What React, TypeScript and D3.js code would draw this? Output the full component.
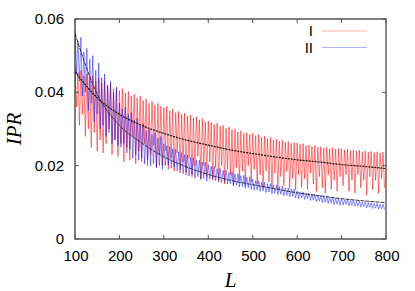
import React, { useRef, useEffect } from 'react';
import * as d3 from 'd3';

// oscillation grid: 105 periods between L=100 and L=800
const L_START = 100;
const L_STEP = 700 / 105;

// series I (red): peak and dip of each period
const redHigh = [
  0.047, 0.0455, 0.046, 0.0445, 0.045, 0.044, 0.0445, 0.043, 0.0438, 0.0425, 0.043, 0.0418, 0.0422, 0.041, 0.0415,
  0.0405, 0.041, 0.0398, 0.0402, 0.039, 0.0395, 0.0385, 0.039, 0.0378, 0.0382, 0.037, 0.0375, 0.0365, 0.037, 0.0362,
  0.0358, 0.0362, 0.035, 0.0355, 0.0345, 0.0348, 0.034, 0.0343, 0.0335, 0.0338, 0.033, 0.0333, 0.0325, 0.0328, 0.032,
  0.0322, 0.0318, 0.0312, 0.0316, 0.0308, 0.031, 0.0302, 0.0305, 0.0298, 0.03, 0.0292, 0.0295, 0.0288, 0.029, 0.0285,
  0.0288, 0.0282, 0.0285, 0.0278, 0.028, 0.0274, 0.0277, 0.027, 0.0272, 0.0267, 0.0269, 0.0264, 0.0266, 0.0261, 0.0263,
  0.0262, 0.0258, 0.026, 0.0255, 0.0257, 0.0253, 0.0255, 0.025, 0.0252, 0.0248, 0.025, 0.0246, 0.0249, 0.0245, 0.0247,
  0.0246, 0.0243, 0.0245, 0.0241, 0.0243, 0.024, 0.0242, 0.0238, 0.024, 0.0237, 0.0239, 0.0236, 0.0238, 0.0235, 0.0237
];
const redLow = [
  0.036, 0.031, 0.034, 0.028, 0.03, 0.025, 0.029, 0.024, 0.027, 0.0235, 0.026, 0.03, 0.023, 0.027, 0.0225,
  0.026, 0.021, 0.025, 0.0215, 0.028, 0.0205, 0.024, 0.021, 0.026, 0.02, 0.023, 0.0255, 0.0195, 0.023, 0.02,
  0.024, 0.019, 0.022, 0.0185, 0.0235, 0.018, 0.021, 0.0175, 0.022, 0.017, 0.02, 0.0225, 0.0165, 0.02, 0.017,
  0.021, 0.016, 0.0195, 0.0155, 0.02, 0.015, 0.019, 0.0175, 0.0145, 0.0195, 0.016, 0.0185, 0.0145, 0.02, 0.0155,
  0.019, 0.015, 0.0175, 0.014, 0.0185, 0.0155, 0.014, 0.018, 0.0135, 0.017, 0.0145, 0.0185, 0.014, 0.0165, 0.0135,
  0.0175, 0.014, 0.0165, 0.0135, 0.018, 0.015, 0.013, 0.017, 0.014, 0.0125, 0.0175, 0.0135, 0.016, 0.013, 0.017,
  0.0145, 0.0175, 0.013, 0.016, 0.0125, 0.0175, 0.014, 0.016, 0.012, 0.017, 0.0135, 0.016, 0.0125, 0.0165, 0.014
];

// series II (blue)
const blueHigh = [
  0.057, 0.054, 0.055, 0.051, 0.052, 0.049, 0.05, 0.046, 0.048, 0.044, 0.045, 0.042, 0.043, 0.04, 0.041,
  0.037, 0.0355, 0.036, 0.034, 0.0345, 0.0325, 0.033, 0.031, 0.0315, 0.0295, 0.03, 0.0285, 0.029, 0.0275, 0.028,
  0.026, 0.0255, 0.0252, 0.0246, 0.0245, 0.0238, 0.0236, 0.023, 0.0229, 0.0223, 0.0222, 0.0216, 0.0215, 0.021, 0.0209,
  0.0203, 0.0198, 0.0198, 0.0192, 0.0193, 0.0187, 0.0188, 0.0182, 0.0183, 0.0177, 0.0178, 0.0173, 0.0174, 0.0169, 0.017,
  0.0163, 0.0159, 0.0159, 0.0155, 0.0155, 0.0151, 0.0151, 0.0147, 0.0147, 0.0143, 0.0144, 0.014, 0.014, 0.0137, 0.0137,
  0.0131, 0.0128, 0.0128, 0.0125, 0.0125, 0.0122, 0.0122, 0.0119, 0.0119, 0.0116, 0.0116, 0.0114, 0.0114, 0.0111, 0.0111,
  0.011, 0.0107, 0.0108, 0.0105, 0.0106, 0.0103, 0.0104, 0.0101, 0.0101, 0.0099, 0.0099, 0.0097, 0.0097, 0.0095, 0.0095
];
const blueLow = [
  0.045, 0.043, 0.039, 0.04, 0.035, 0.037, 0.032, 0.034, 0.03, 0.031, 0.028, 0.029, 0.026, 0.027, 0.0255,
  0.025, 0.026, 0.0235, 0.0245, 0.022, 0.023, 0.0215, 0.022, 0.0205, 0.0215, 0.02, 0.0205, 0.0195, 0.02, 0.019,
  0.02, 0.0202, 0.0193, 0.0196, 0.0186, 0.0189, 0.0178, 0.0182, 0.0172, 0.0176, 0.0166, 0.017, 0.0162, 0.0165, 0.0158,
  0.0163, 0.0165, 0.0159, 0.016, 0.0154, 0.0156, 0.015, 0.0151, 0.0146, 0.0147, 0.0142, 0.0143, 0.0138, 0.014, 0.0135,
  0.0133, 0.0134, 0.013, 0.0131, 0.0127, 0.0128, 0.0124, 0.0125, 0.0121, 0.0122, 0.0118, 0.0119, 0.0115, 0.0116, 0.0112,
  0.011, 0.0112, 0.0108, 0.0109, 0.0105, 0.0106, 0.0102, 0.0103, 0.0099, 0.01, 0.0097, 0.0098, 0.0094, 0.0095, 0.0092,
  0.0093, 0.0094, 0.0091, 0.0092, 0.0089, 0.009, 0.0087, 0.0088, 0.0085, 0.0086, 0.0083, 0.0084, 0.0081, 0.0082, 0.008
];

// fitted curves, read every 50 in L
const fitL = [100, 150, 200, 250, 300, 350, 400, 450, 500, 550, 600, 650, 700, 750, 800];
const fitRed = [0.0456, 0.0385, 0.034, 0.031, 0.0288, 0.027, 0.0256, 0.0243, 0.0233, 0.0224, 0.0216, 0.021, 0.0203, 0.0198, 0.0192];
const fitBlue = [0.056, 0.0395, 0.031, 0.0262, 0.0224, 0.0197, 0.0176, 0.016, 0.0148, 0.0137, 0.0126, 0.0118, 0.011, 0.0104, 0.0099];

const xTicks = [100, 200, 300, 400, 500, 600, 700, 800];
const yTicks = [0, 0.02, 0.04, 0.06];
const legendItems = [
  { label: 'I', color: '#ff0000' },
  { label: 'II', color: '#0000ff' }
];

const W = 415;
const H = 291;

const zigzag = (hi: number[], lo: number[]): [number, number][] => {
  const pts: [number, number][] = [];
  hi.forEach((h, i) => {
    pts.push([L_START + i * L_STEP, h]);
    pts.push([L_START + (i + 0.5) * L_STEP, lo[i]]);
  });
  return pts;
};

const App: React.FC = () => {
  const svgRef = useRef<SVGSVGElement>(null);

  useEffect(() => {
    if (!svgRef.current) return;
    const svg = d3.select(svgRef.current);
    svg.selectAll('*').remove();

    const margin = { top: 19, right: 29, bottom: 52, left: 75 };
    const x = d3.scaleLinear().domain([100, 800]).range([margin.left, W - margin.right]);
    const y = d3.scaleLinear().domain([0, 0.06]).range([H - margin.bottom, margin.top]);

    const line = d3.line<[number, number]>()
      .x(d => x(d[0]))
      .y(d => y(d[1]));
    const smooth = d3.line<[number, number]>()
      .x(d => x(d[0]))
      .y(d => y(d[1]))
      .curve(d3.curveMonotoneX);

    svg.append('defs').append('clipPath').attr('id', 'plot-clip')
      .append('rect')
      .attr('x', x(100)).attr('y', y(0.06))
      .attr('width', x(800) - x(100)).attr('height', y(0) - y(0.06));

    const plot = svg.append('g').attr('clip-path', 'url(#plot-clip)');

    // data
    plot.append('path')
      .attr('d', line(zigzag(redHigh, redLow)))
      .attr('fill', 'none')
      .attr('stroke', '#ff0000')
      .attr('stroke-width', 0.6)
      .attr('stroke-opacity', 0.85);

    plot.append('path')
      .attr('d', line(zigzag(blueHigh, blueLow)))
      .attr('fill', 'none')
      .attr('stroke', '#0000ff')
      .attr('stroke-width', 0.6)
      .attr('stroke-opacity', 0.75);

    // fits
    plot.append('path')
      .attr('d', smooth(fitL.map((l, i) => [l, fitRed[i]] as [number, number])))
      .attr('fill', 'none')
      .attr('stroke', '#111')
      .attr('stroke-width', 1.2)
      .attr('stroke-dasharray', '2,1');

    plot.append('path')
      .attr('d', smooth(fitL.map((l, i) => [l, fitBlue[i]] as [number, number])))
      .attr('fill', 'none')
      .attr('stroke', '#333')
      .attr('stroke-width', 1)
      .attr('stroke-dasharray', '4,1');

    // frame
    const x0 = x(100), x1 = x(800), y0 = y(0), y1 = y(0.06);
    svg.append('rect')
      .attr('x', x0).attr('y', y1)
      .attr('width', x1 - x0).attr('height', y0 - y1)
      .attr('fill', 'none')
      .attr('stroke', '#000')
      .attr('stroke-width', 1);
    svg.append('line')
      .attr('x1', x1).attr('x2', x1).attr('y1', y1).attr('y2', y0)
      .attr('stroke', '#888').attr('stroke-width', 2);

    // ticks (inside, mirrored)
    const tick = 4;
    xTicks.forEach(t => {
      svg.append('line').attr('x1', x(t)).attr('x2', x(t)).attr('y1', y0).attr('y2', y0 - tick)
        .attr('stroke', '#555').attr('stroke-width', 1);
      svg.append('line').attr('x1', x(t)).attr('x2', x(t)).attr('y1', y1).attr('y2', y1 + tick)
        .attr('stroke', '#555').attr('stroke-width', 1);
    });
    yTicks.forEach(t => {
      svg.append('line').attr('x1', x0).attr('x2', x0 + tick).attr('y1', y(t)).attr('y2', y(t))
        .attr('stroke', '#555').attr('stroke-width', 1);
      svg.append('line').attr('x1', x1).attr('x2', x1 - tick).attr('y1', y(t)).attr('y2', y(t))
        .attr('stroke', '#555').attr('stroke-width', 1);
    });

    const font = '"Liberation Sans", Arial, sans-serif';

    svg.selectAll('.x-label')
      .data(xTicks)
      .enter()
      .append('text')
      .attr('class', 'x-label')
      .attr('x', d => x(d) + 1)
      .attr('y', y0 + 22)
      .attr('text-anchor', 'middle')
      .attr('font-family', font)
      .attr('font-size', '15px')
      .attr('fill', '#000')
      .text(d => String(d));

    svg.selectAll('.y-label')
      .data(yTicks)
      .enter()
      .append('text')
      .attr('class', 'y-label')
      .attr('x', x0 - 11)
      .attr('y', d => y(d) + 5)
      .attr('text-anchor', 'end')
      .attr('font-family', font)
      .attr('font-size', '15px')
      .attr('fill', '#000')
      .text(d => (d === 0 ? '0' : d.toFixed(2)));

    // axis titles
    svg.append('text')
      .attr('x', (x0 + x1) / 2)
      .attr('y', 287)
      .attr('text-anchor', 'middle')
      .attr('font-family', '"Liberation Serif", "Times New Roman", serif')
      .attr('font-style', 'italic')
      .attr('font-size', '21px')
      .text('L');

    svg.append('text')
      .attr('transform', `translate(21, ${(y0 + y1) / 2}) rotate(-90)`)
      .attr('text-anchor', 'middle')
      .attr('font-family', '"Liberation Serif", "Times New Roman", serif')
      .attr('font-style', 'italic')
      .attr('font-size', '21px')
      .text('IPR');

    // legend
    legendItems.forEach((item, i) => {
      const ly = 31 + i * 16.5;
      svg.append('text')
        .attr('x', 313)
        .attr('y', ly + 5)
        .attr('text-anchor', 'end')
        .attr('font-family', font)
        .attr('font-size', '15px')
        .text(item.label);
      svg.append('line')
        .attr('x1', 322).attr('x2', 367)
        .attr('y1', ly).attr('y2', ly)
        .attr('stroke', item.color)
        .attr('stroke-width', 0.6)
        .attr('stroke-opacity', 0.5);
    });
  }, []);

  return (
    <svg
      ref={svgRef}
      width={W}
      height={H}
      style={{ position: 'absolute', left: 0, top: 0, background: '#fff' }}
    />
  );
};

export default App;
